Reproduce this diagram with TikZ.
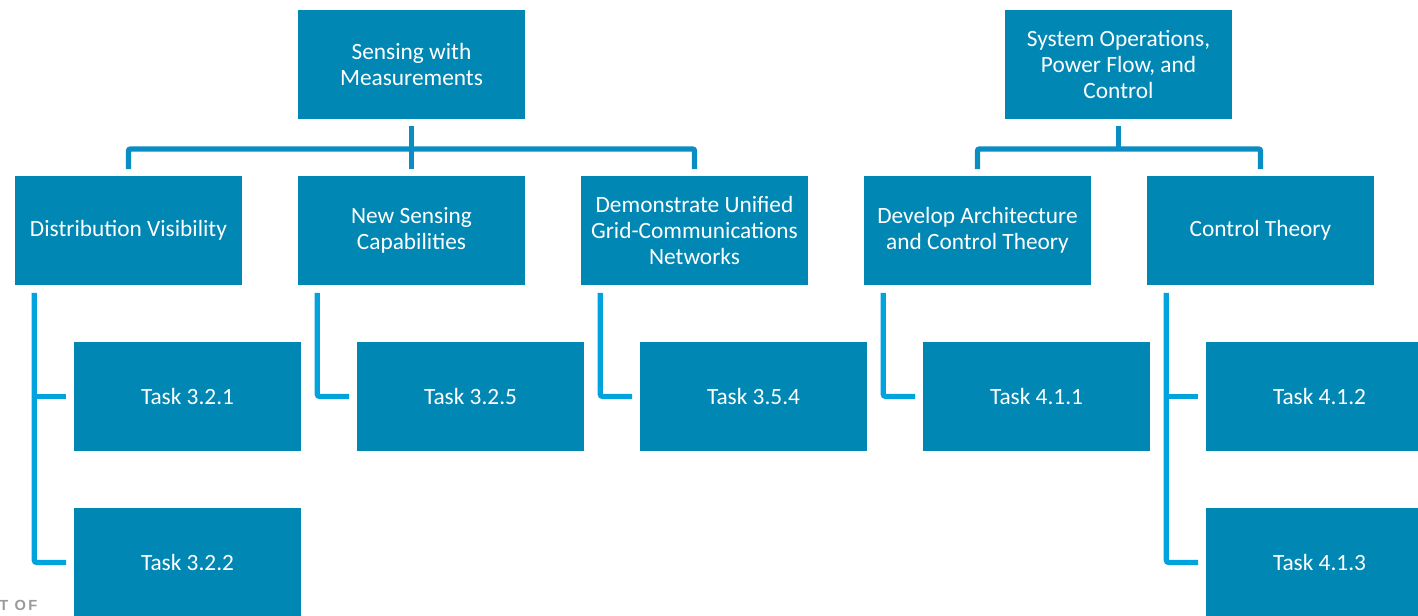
\documentclass[tikz,border=0pt]{standalone}
\usepackage{fontspec}
\setmainfont{Carlito}
\newfontfamily\deptfont[LetterSpace=15]{Liberation Sans}
\usetikzlibrary{calc}

\definecolor{boxblue}{HTML}{0087B4}
\definecolor{busblue}{HTML}{0A8DC2}
\definecolor{sideblue}{HTML}{00A3DE}
\definecolor{deptgray}{HTML}{9A9A9A}

\tikzset{every picture/.style={line width=0.75pt}}
\tikzset{
  tbox/.style={rectangle, fill=boxblue, draw=white, line width=1.2pt,
    minimum width=171.75pt, minimum height=83.25pt, inner sep=0pt,
    text=white, align=center, font=\fontsize{17.5}{19.5}\selectfont},
  busline/.style={draw=busblue, line width=4pt, rounded corners=1.5pt},
  sideline/.style={draw=sideblue, line width=4pt, rounded corners=2pt},
}

\begin{document}
\begin{tikzpicture}[x=0.75pt,y=0.75pt,yscale=-1,xscale=1]
  %set diagram size
  \useasboundingbox (0,0) rectangle (1418,615);
  \clip (0,0) rectangle (1418,615);

  %Shape: top level
  \node[tbox] (sense) at (411.5,64.5) {Sensing with\\Measurements};
  \node[tbox] (sysop) at (1118.5,64.5) {System Operations,\\Power Flow, and\\Control};

  %Shape: second level
  \node[tbox] (distvis) at (128.5,230.5) {Distribution Visibility};
  \node[tbox] (newsens) at (411.5,230.5) {New Sensing\\Capabilities};
  \node[tbox] (unified) at (694.5,230.5) {Demonstrate Unified\\Grid-Communications\\Networks};
  \node[tbox] (archctl) at (977.5,230.5) {Develop Architecture\\and Control Theory};
  \node[tbox] (ctltheo) at (1260.5,230.5) {Control Theory};

  %Shape: tasks
  \node[tbox] (t321) at (187.5,396.5) {Task 3.2.1};
  \node[tbox] (t322) at (187.5,562.5) {Task 3.2.2};
  \node[tbox] (t325) at (470.5,396.5) {Task 3.2.5};
  \node[tbox] (t354) at (753.5,396.5) {Task 3.5.4};
  \node[tbox] (t411) at (1036.5,396.5) {Task 4.1.1};
  \node[tbox] (t412) at (1319.5,396.5) {Task 4.1.2};
  \node[tbox] (t413) at (1319.5,562.5) {Task 4.1.3};

  %Shape: bus lines
  \draw[busline] (sense.south |- 0,126) -- (sense.south |- 0,149);
  \draw[busline] (distvis.north |- 0,169) -- (distvis.north |- 0,149)
    -- (unified.north |- 0,149) -- (unified.north |- 0,169);
  \draw[busline] (newsens.north |- 0,149) -- (newsens.north |- 0,169);
  \draw[busline] (sysop.south |- 0,126) -- (sysop.south |- 0,149);
  \draw[busline] (archctl.north |- 0,169) -- (archctl.north |- 0,149)
    -- (ctltheo.north |- 0,149) -- (ctltheo.north |- 0,169);

  %Shape: side lines
  \coordinate (dv) at ($(distvis.south west)+(21,6)$);
  \draw[sideline] (dv) |- ($(t322.west)+(-6,0)$);
  \draw[sideline] (t321.west -| dv) -- ($(t321.west)+(-6,0)$);
  \coordinate (ns) at ($(newsens.south west)+(21,6)$);
  \draw[sideline] (ns) |- ($(t325.west)+(-6,0)$);
  \coordinate (un) at ($(unified.south west)+(21,6)$);
  \draw[sideline] (un) |- ($(t354.west)+(-6,0)$);
  \coordinate (ac) at ($(archctl.south west)+(21,6)$);
  \draw[sideline] (ac) |- ($(t411.west)+(-6,0)$);
  \coordinate (ct) at ($(ctltheo.south west)+(21,6)$);
  \draw[sideline] (ct) |- ($(t413.west)+(-6,0)$);
  \draw[sideline] (t412.west -| ct) -- ($(t412.west)+(-6,0)$);

  % Text Node
  \node[anchor=base west, inner sep=0pt, text=deptgray, font=\deptfont\bfseries\fontsize{11}{11}\selectfont] (dept) at (-1,610) {T OF};
\end{tikzpicture}
\end{document}
